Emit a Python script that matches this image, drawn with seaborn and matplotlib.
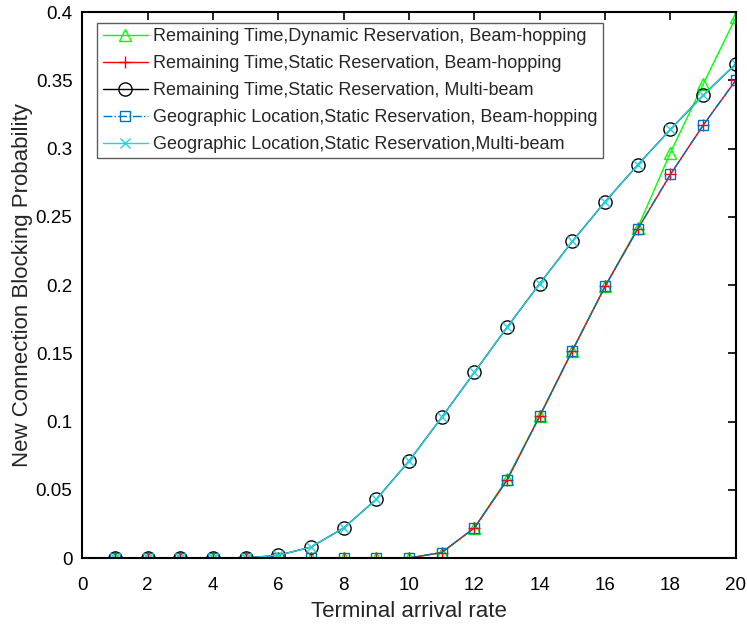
import matplotlib
matplotlib.use("Agg")
import matplotlib.pyplot as plt
import seaborn as sns
import numpy as np

sns.set_theme(style="white")
plt.rcParams['font.family'] = ['Liberation Sans', 'DejaVu Sans']

x = list(range(1, 21))
rt_dyn_bh = [0, 0, 0, 0, 0, 0, 0, 0, 0, 0, 0.004, 0.022, 0.058, 0.104, 0.152, 0.199, 0.242, 0.297, 0.347, 0.396]
rt_sta_bh = [0, 0, 0, 0, 0, 0, 0, 0, 0, 0, 0.004, 0.022, 0.057, 0.104, 0.152, 0.199, 0.241, 0.281, 0.317, 0.350]
rt_sta_mb = [0, 0, 0, 0, 0, 0.002, 0.008, 0.022, 0.043, 0.071, 0.103, 0.136, 0.169, 0.201, 0.232, 0.261, 0.288, 0.314, 0.339, 0.362]
gl_sta_bh = [0, 0, 0, 0, 0, 0, 0, 0, 0, 0, 0.004, 0.022, 0.057, 0.104, 0.152, 0.199, 0.241, 0.281, 0.317, 0.350]
gl_sta_mb = [0, 0, 0, 0, 0, 0.002, 0.008, 0.022, 0.043, 0.071, 0.103, 0.136, 0.169, 0.201, 0.232, 0.261, 0.288, 0.314, 0.339, 0.362]

labels = [
    "Remaining Time,Dynamic Reservation, Beam-hopping",
    "Remaining Time,Static Reservation, Beam-hopping",
    "Remaining Time,Static Reservation, Multi-beam",
    "Geographic Location,Static Reservation, Beam-hopping",
    "Geographic Location,Static Reservation,Multi-beam",
]
xticks = [0, 2, 4, 6, 8, 10, 12, 14, 16, 18, 20]
yticks = [0, 0.05, 0.1, 0.15, 0.2, 0.25, 0.3, 0.35, 0.4]
ytick_labels = ["0", "0.05", "0.1", "0.15", "0.2", "0.25", "0.3", "0.35", "0.4"]

fig = plt.figure(figsize=(7.47, 6.26), dpi=100)
ax = fig.add_axes([0.110, 0.1086, 0.875, 0.8722])

styles = [
    dict(data=rt_dyn_bh, color="#00FF00", marker="^", ms=9, ls="-"),
    dict(data=rt_sta_bh, color="#FF0000", marker="+", ms=9, ls="-"),
    dict(data=rt_sta_mb, color="#000000", marker="o", ms=9.5, ls="-"),
    dict(data=gl_sta_bh, color="#0072BD", marker="s", ms=7, ls="-."),
    dict(data=gl_sta_mb, color="#22D3E3", marker="x", ms=7, ls="-"),
]
for s, lab in zip(styles, labels):
    sns.lineplot(x=x, y=s["data"], ax=ax, color=s["color"], marker=s["marker"],
                 markersize=s["ms"], linestyle=s["ls"], linewidth=1.0,
                 markerfacecolor="none", markeredgecolor=s["color"],
                 markeredgewidth=1.0, label=lab)

ax.set_xlim(0, 20)
ax.set_ylim(0, 0.4)
ax.set_xticks(xticks)
ax.set_xticklabels([str(t) for t in xticks])
ax.set_yticks(yticks)
ax.set_yticklabels(ytick_labels)
ax.tick_params(direction="in", top=True, right=True, length=6, width=1.2,
               labelsize=13.5, colors="black")
ax.tick_params(axis="x", pad=14)
ax.tick_params(axis="y", pad=7)
for sp in ax.spines.values():
    sp.set_color("black")
    sp.set_linewidth(1.5)
ax.set_xlabel("Terminal arrival rate", fontsize=16, labelpad=5)
ax.set_ylabel("New Connection Blocking Probability", fontsize=16, labelpad=2)

leg = ax.legend(loc="upper left", bbox_to_anchor=(0.023, 0.98), fontsize=13,
                frameon=True, fancybox=False, edgecolor="#333333",
                handlelength=2.5, labelspacing=0.55, borderpad=0.3,
                handletextpad=0.3, borderaxespad=0.0)
leg.get_frame().set_linewidth(1.0)
for line in leg.get_lines():
    line.set_linewidth(1.0)

fig.savefig("out.png", dpi=100)
